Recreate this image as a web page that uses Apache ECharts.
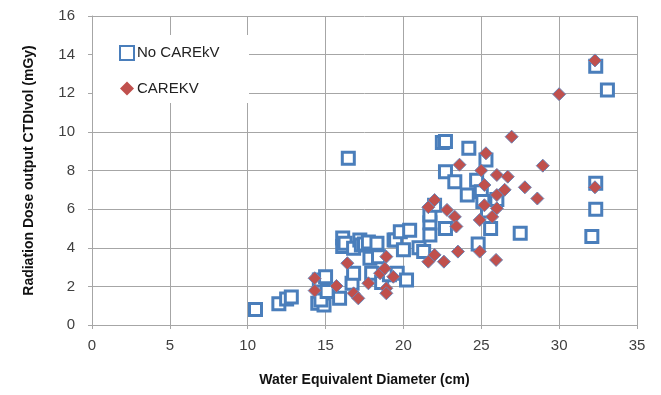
<!DOCTYPE html>
<html><head><meta charset="utf-8">
<script src="https://cdn.jsdelivr.net/npm/echarts@6/dist/echarts.min.js"></script>
<style>html,body{margin:0;padding:0;background:#fff}#c{width:661px;height:395px}</style>
</head><body><div id="c"></div>
<script>
var seriesNames = ['No CAREkV', 'CAREKV'];
var xTicks = [0, 5, 10, 15, 20, 25, 30, 35];
var yTicks = [0, 2, 4, 6, 8, 10, 12, 14, 16];
var noCareX = [10.5,12.0,12.5,12.8,14.5,14.9,14.7,14.6,15.0,15.1,15.9,16.1,16.1,16.25,16.46,16.7,16.8,16.8,17.2,17.3,17.5,17.75,17.85,17.96,18.3,18.4,18.6,19.1,19.4,19.5,19.6,19.8,20.0,20.2,20.4,21.0,21.3,21.7,21.7,21.7,22.0,22.5,22.7,22.7,22.7,23.3,24.2,24.1,24.7,24.8,25.0,25.1,25.3,25.6,25.4,26.0,27.5,32.35,33.1,32.35,32.35,32.1];
var noCareY = [0.8,1.1,1.35,1.45,1.12,1.04,1.3,2.33,2.5,1.73,1.38,4.5,4.06,4.23,8.63,2.16,2.68,3.97,4.4,4.14,4.2,4.3,3.45,2.68,4.23,3.54,2.2,2.6,4.4,4.4,2.68,4.83,3.9,2.33,4.9,4.0,3.8,4.66,5.3,5.7,6.2,9.45,9.5,7.94,5.0,7.42,9.15,6.73,7.5,4.2,6.9,6.4,8.55,5.0,5.9,6.5,4.75,13.4,12.17,7.34,6.0,4.58];
var careX = [14.3,14.3,15.7,16.4,16.8,17.1,17.75,18.5,18.8,18.9,18.9,18.9,19.35,21.6,21.6,22.0,22.0,22.6,22.8,23.3,23.4,23.5,23.6,24.9,24.9,25.0,25.2,25.2,25.3,25.7,25.95,26.0,26.0,26.0,26.5,26.7,26.95,27.8,28.6,28.95,30.0,32.3,32.3];
var careY = [2.42,1.78,2.02,3.2,1.64,1.38,2.16,2.68,2.93,3.54,1.9,1.64,2.5,3.28,6.1,6.47,3.63,3.28,5.96,5.6,5.1,3.8,8.3,5.44,3.8,8.0,7.25,6.2,8.89,5.6,3.37,7.77,6.73,6.04,7.0,7.68,9.75,7.13,6.55,8.25,11.95,13.7,7.13];

function pairs(xs, ys){ return xs.map(function(x,i){return [x, ys[i]];}); }
var font = 'Liberation Sans, Arial, sans-serif';
var chart = echarts.init(document.getElementById('c'), null, {renderer:'canvas'});
chart.setOption({
  animation:false,
  backgroundColor:'#fff',
  grid:{left:92,right:24,top:16,bottom:70,containLabel:false},
  graphic:[{type:'rect', z:1, shape:{x:93,y:35,width:156,height:68}, style:{fill:'#ffffff'}}],
  legend:{
    orient:'vertical', left:114, top:40, itemGap:20, itemWidth:14, itemHeight:14,
    textStyle:{fontFamily:font,fontSize:15,color:'#222',padding:[0,0,0,-2]},
    data:[
      {name:seriesNames[0]},
      {name:seriesNames[1], itemStyle:{borderWidth:0}}
    ]
  },
  xAxis:{
    type:'value', min:xTicks[0], max:xTicks[xTicks.length-1], interval:5,
    name:'Water Equivalent Diameter (cm)', nameLocation:'middle', nameGap:48,
    nameTextStyle:{fontFamily:font,fontSize:14,fontWeight:'bold',color:'#111'},
    axisLine:{show:true,lineStyle:{color:'#a6a6a6',width:1}},
    axisTick:{show:true,length:4,lineStyle:{color:'#a6a6a6'}},
    axisLabel:{fontFamily:font,fontSize:15,color:'#404040',margin:13},
    splitLine:{show:true,lineStyle:{color:'#a6a6a6',width:1}}
  },
  yAxis:{
    type:'value', min:yTicks[0], max:yTicks[yTicks.length-1], interval:2,
    name:'Radiation Dose output CTDIvol (mGy)', nameLocation:'middle', nameGap:56,
    nameTextStyle:{fontFamily:font,fontSize:14,fontWeight:'bold',color:'#111'},
    axisLine:{show:true,lineStyle:{color:'#a6a6a6',width:1}},
    axisTick:{show:true,length:4,lineStyle:{color:'#a6a6a6'}},
    axisLabel:{fontFamily:font,fontSize:15,color:'#404040',margin:17},
    splitLine:{show:true,lineStyle:{color:'#a6a6a6',width:1}}
  },
  series:[
    {name:seriesNames[0], type:'scatter', symbol:'rect', symbolSize:12,
     itemStyle:{color:'#ffffff',borderColor:'#4a7ebb',borderWidth:3,opacity:1},
     data:pairs(noCareX, noCareY)},
    {name:seriesNames[1], type:'scatter', symbol:'diamond', symbolSize:13,
     itemStyle:{color:'#c0504d',borderColor:'#6b84b6',borderWidth:1,opacity:1},
     data:pairs(careX, careY)}
  ]
});
</script></body></html>
